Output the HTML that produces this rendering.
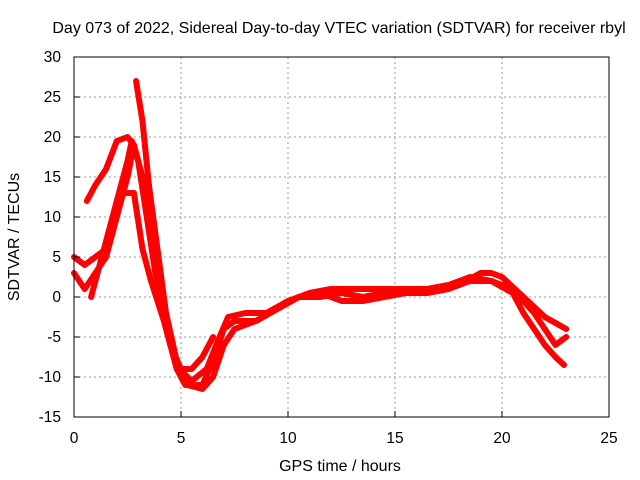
<!DOCTYPE html>
<html><head><meta charset="utf-8"><style>
body{margin:0;background:#fff}
svg{display:block;font-family:"Liberation Sans",sans-serif}
</style></head><body>
<svg width="640" height="480" viewBox="0 0 640 480">
<rect width="640" height="480" fill="#fff"/>
<g id="grid"></g>
<g id="series"></g>
<rect x="74" y="57" width="535" height="360" fill="none" stroke="#000" stroke-width="1"/>
<g id="ticks"></g>
<text x="339" y="33" font-size="16" text-anchor="middle">Day 073 of 2022, Sidereal Day-to-day VTEC variation (SDTVAR) for receiver rbyl</text>
<text x="340" y="471" font-size="16" text-anchor="middle">GPS time / hours</text>
<text transform="translate(19,237) rotate(-90)" font-size="16" text-anchor="middle">SDTVAR / TECUs</text>
</svg>
<script>
const xTicks=[0,5,10,15,20,25];
const yTicks=[-15,-10,-5,0,5,10,15,20,25,30];
const trackA=[[0.6,12],[1,14],[1.5,16],[2,19.5],[2.5,20],[2.8,19],[3.2,15],[3.6,8],[4,0],[4.5,-6],[5,-9],[5.5,-9],[6,-7.5],[6.5,-5]];
const trackB=[[0.8,0],[1.2,4],[1.6,8],[2,12],[2.3,13],[2.8,13],[3.2,6],[3.6,2],[4.2,-3],[4.8,-9],[5.2,-11],[6,-11],[6.5,-8],[7,-4],[7.5,-3],[8.5,-3],[9.5,-1.5],[10.5,0],[11.5,0.5],[12.5,-0.5],[13.5,-0.5],[14.5,0],[15.5,0.5],[16.5,0.5],[17.5,1],[18.5,2],[19.5,2],[20.5,0.5],[21,-2],[21.5,-4],[22,-6],[22.5,-7.5],[22.9,-8.5]];
const trackC=[[0,5],[0.5,4],[1,5],[1.5,6],[2,12],[2.5,17],[2.7,19.5],[3,17],[3.4,10],[3.8,3],[4.3,-3],[4.9,-9],[5.5,-10.5],[6.2,-9],[6.8,-5],[7.2,-2.5],[8,-2],[9,-2],[10,-0.5],[11,0.5],[12,1],[13,1],[14,1],[15,1],[16,1],[17,1],[18,1.5],[19,3],[19.5,3],[20,2.5],[21,0],[22,-2.5],[23,-4]];
const trackD=[[2.9,27],[3.2,22],[3.5,14],[3.9,6],[4.3,-2],[4.8,-8],[5.3,-11],[6,-11.5],[6.5,-10],[7,-6],[7.5,-4],[8.5,-3],[9.5,-1.5],[10.5,0],[11.5,0],[12.5,0.5],[13.5,0],[14.5,0.5],[15.5,1],[16.5,1],[17.5,1.5],[18.5,2.5],[19.5,2],[20.5,1],[21,-0.5],[21.5,-2],[22,-4],[22.5,-6],[23,-5]];
const trackE=[[0,3],[0.5,1],[1,3],[1.5,5],[2,10],[2.5,15],[2.8,19]];
const tracks=[trackA,trackB,trackC,trackD,trackE];
const X=v=>74+v*535/25, Y=v=>417-(v+15)*8;
const ns="http://www.w3.org/2000/svg";
const g=document.getElementById('grid'),t=document.getElementById('ticks'),s=document.getElementById('series');
function mk(tag,a,p){const e=document.createElementNS(ns,tag);for(const k in a)e.setAttribute(k,a[k]);p.appendChild(e);return e;}
xTicks.forEach(v=>{
 if(v>0&&v<25){const l=mk('line',{x1:X(v),x2:X(v),y1:57,y2:417,stroke:'#999','stroke-dasharray':'2,3'},g);
 
 }
 const tk=mk('text',{x:X(v),y:443,'font-size':15.5,'text-anchor':'middle'},t);tk.textContent=v;
 
 
 mk('line',{x1:X(v),x2:X(v),y1:417,y2:411,stroke:'#000'},t);
});
yTicks.forEach(v=>{
 if(v>-15&&v<30){const l=mk('line',{x1:74,x2:609,y1:Y(v),y2:Y(v),stroke:'#999','stroke-dasharray':'2,3'},g);
 
 }
 const tk=mk('text',{x:61,y:Y(v)+5,'font-size':15.5,'text-anchor':'end'},t);tk.textContent=v;
 
 
 mk('line',{x1:74,x2:80,y1:Y(v),y2:Y(v),stroke:'#000'},t);
});
tracks.forEach((tr,i)=>{
 const pl=mk('polyline',{points:tr.map(p=>X(p[0])+','+Y(p[1])).join(' '),fill:'none',stroke:'#f00','stroke-width':6,'stroke-linejoin':'round','stroke-linecap':'round'},s);
 
 
});
</script>
</body></html>
